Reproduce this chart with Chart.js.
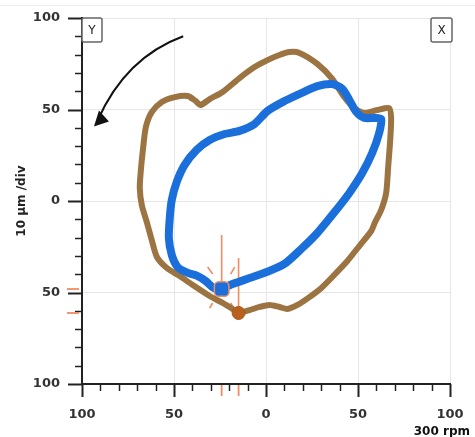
<!DOCTYPE html>
<html><head><meta charset="utf-8">
<script src="https://cdn.jsdelivr.net/npm/chart.js@4"></script>
<style>html,body{margin:0;padding:0;background:#fff;}#wrap{width:475px;height:437px;}</style>
</head><body><div id="wrap"><canvas id="c" width="475" height="437"></canvas></div>
<script>
// ---- data (µm, 10 µm/div scale) ----
const tickValues = [-100, -50, 0, 50, 100];
const blueX = [-24.1,-18.2,-8.9,0.3,10.0,19.2,27.9,38.2,45.3,52.3,57.7,61.5,62.6,59.9,53.4,49.1,45.3,41.5,36.0,27.9,19.2,10.0,0.8,-6.2,-14.4,-22.5,-30.6,-37.7,-44.2,-48.5,-51.2,-52.3,-52.8,-51.2,-48.0,-42.5,-37.1,-32.8,-28.5,-25.2];
const blueY = [-48.1,-45.4,-42.1,-38.8,-34.4,-26.2,-17.5,-4.9,4.4,15.3,26.2,37.2,44.8,45.4,45.4,48.6,55.2,61.2,63.9,62.8,59.0,54.6,49.2,42.1,38.3,36.6,33.3,27.9,19.7,10.4,0.5,-9.3,-20.2,-29.5,-36.1,-39.3,-41.0,-43.7,-47.5,-48.6];
const brownX = [-14.9,-8.9,-3.5,1.9,7.3,11.7,17.1,23.6,30.1,37.1,44.2,50.7,57.2,59.3,62.6,65.3,66.4,67.5,68.0,66.9,60.4,53.9,48.0,42.5,36.0,27.9,18.2,12.7,7.3,0.8,-6.2,-14.4,-23.6,-30.6,-35.5,-38.2,-42.5,-49.6,-56.6,-62.1,-65.3,-66.9,-68.0,-68.6,-67.5,-64.8,-62.1,-59.3,-53.9,-46.9,-39.8,-30.6,-23.6,-18.2,-14.9];
const brownY = [-61.2,-59.6,-57.9,-56.8,-57.9,-59.0,-56.8,-52.5,-47.5,-40.4,-32.8,-24.6,-16.4,-11.5,-4.9,4.4,18.6,33.3,45.4,50.8,49.7,48.1,50.8,56.8,66.7,74.9,80.9,81.4,79.8,77.0,73.2,67.2,59.6,55.7,52.5,54.6,57.4,56.8,54.1,48.6,40.4,27.9,16.9,7.1,-2.2,-11.5,-21.3,-30.6,-36.6,-41.0,-45.9,-51.9,-55.7,-59.0,-61.2];
const blueMarker = [-24.1, -48.1];
const brownMarker = [-14.9, -61.2];
const yTitle = '10 µm /div';
const xTitle = '300 rpm';

const toPts = (xs, ys) => xs.map((v, i) => ({x: v, y: ys[i]}));
const FONT = 'DejaVu Sans';
const ORANGE = '#f08c62';
const BLUE = '#1a6fdb';
const BROWN = '#9b7442';

const decor = {
  id: 'decor',
  beforeDatasetsDraw(chart) {
    const {ctx, chartArea: ca, scales: {x, y}} = chart;
    ctx.save();
    ctx.strokeStyle = ORANGE; ctx.lineWidth = 1.6;
    const bx = x.getPixelForValue(blueMarker[0]), by = y.getPixelForValue(blueMarker[1]);
    const rx = x.getPixelForValue(brownMarker[0]), ry = y.getPixelForValue(brownMarker[1]);
    const seg = (a,b,c,d) => {ctx.beginPath(); ctx.moveTo(a,b); ctx.lineTo(c,d); ctx.stroke();};
    seg(bx, by - 54, bx, by);
    seg(rx, ry - 55, rx, ry);
    // starburst around blue marker
    seg(bx-14, by-22, bx-9, by-15);
    seg(bx+9, by-15, bx+13, by-22);
    seg(bx-12, by+19, bx-9, by+14);
    seg(bx+9, by+14, bx+12, by+19);
    ctx.restore();
  },
  afterDraw(chart) {
    const {ctx, chartArea: ca, scales: {x, y}} = chart;
    ctx.save();
    // faint top frame line
    ctx.strokeStyle = '#eeeeee'; ctx.lineWidth = 1;
    ctx.beginPath(); ctx.moveTo(0, 5.5); ctx.lineTo(475, 5.5); ctx.stroke();
    // axis ticks (major/minor)
    ctx.strokeStyle = '#222';
    y.ticks.forEach(t => {
      const p = Math.round(y.getPixelForValue(t.value)) + 0.5;
      const major = t.value % 50 === 0;
      ctx.lineWidth = major ? 2 : 1.5;
      ctx.beginPath(); ctx.moveTo(ca.left - (major ? 14 : 7), p); ctx.lineTo(ca.left, p); ctx.stroke();
    });
    x.ticks.forEach(t => {
      const p = Math.round(x.getPixelForValue(t.value)) + 0.5;
      const major = t.value % 50 === 0;
      ctx.lineWidth = major ? 2 : 1.5;
      ctx.beginPath(); ctx.moveTo(p, ca.bottom); ctx.lineTo(p, ca.bottom + (major ? 13 : 7)); ctx.stroke();
    });
    // orange marker ticks on axes
    ctx.strokeStyle = ORANGE; ctx.lineWidth = 1.8;
    [blueMarker, brownMarker].forEach(m => {
      const py = y.getPixelForValue(m[1]);
      ctx.beginPath(); ctx.moveTo(ca.left - 15, py); ctx.lineTo(ca.left - 3, py); ctx.stroke();
      const px = x.getPixelForValue(m[0]);
      ctx.beginPath(); ctx.moveTo(px, ca.bottom + 1); ctx.lineTo(px, ca.bottom + 12); ctx.stroke();
    });
    // Y / X boxes
    const box = (l, t, w, h, txt) => {
      ctx.fillStyle = '#fff'; ctx.strokeStyle = '#666'; ctx.lineWidth = 1.5;
      ctx.beginPath(); ctx.roundRect(l, t, w, h, 2); ctx.fill(); ctx.stroke();
      ctx.fillStyle = '#222'; ctx.font = '12px ' + FONT; ctx.textAlign = 'center'; ctx.textBaseline = 'middle';
      ctx.fillText(txt, l + w / 2, t + h / 2 + 1);
    };
    box(ca.left, ca.top, 20, 24, 'Y');
    box(ca.right - 19, ca.top, 21, 24, 'X');
    // rotation arrow
    const a0 = [x.getPixelForValue(-45), y.getPixelForValue(90)];
    const a1 = [x.getPixelForValue(-76.4), y.getPixelForValue(78.4)];
    const a2 = [x.getPixelForValue(-91.5), y.getPixelForValue(44)];
    ctx.strokeStyle = '#111'; ctx.lineWidth = 2;
    ctx.beginPath(); ctx.moveTo(a0[0], a0[1]); ctx.quadraticCurveTo(a1[0], a1[1], a2[0], a2[1]); ctx.stroke();
    const tip = [x.getPixelForValue(-93.5), y.getPixelForValue(40.7)];
    ctx.fillStyle = '#111';
    ctx.beginPath(); ctx.moveTo(tip[0], tip[1]);
    ctx.lineTo(tip[0] + 5, tip[1] - 16); ctx.lineTo(tip[0] + 15, tip[1] - 5); ctx.closePath(); ctx.fill();
    ctx.restore();
  }
};

new Chart(document.getElementById('c'), {
  type: 'scatter',
  data: {
    datasets: [
      {data: toPts(brownX, brownY), showLine: true, borderColor: BROWN, borderWidth: 6, pointRadius: 0, tension: 0.25, order: 3},
      {data: toPts(blueX, blueY), showLine: true, borderColor: BLUE, borderWidth: 8, pointRadius: 0, tension: 0.25, order: 2},
      {data: [{x: brownMarker[0], y: brownMarker[1]}], pointStyle: 'circle', pointRadius: 6.5, backgroundColor: '#b9601c', borderColor: '#a85a20', borderWidth: 1, order: 1},
      {data: [{x: blueMarker[0], y: blueMarker[1]}], pointStyle: 'rectRounded', pointRadius: 8.5, backgroundColor: BLUE, borderColor: ORANGE, borderWidth: 1.5, order: 0}
    ]
  },
  options: {
    responsive: false, animation: false, devicePixelRatio: 1,
    layout: {padding: {left: 0, right: 5, top: 18, bottom: 0}},
    plugins: {
      legend: {display: false}, tooltip: {enabled: false},
      title: {display: true, text: xTitle, position: 'bottom', align: 'end', color: '#111',
              font: {family: FONT, size: 12, weight: 'bold'}, padding: {top: 2, bottom: -2}}
    },
    scales: {
      x: {
        type: 'linear', min: -100, max: 100,
        afterFit: s => { s.height = 38.6; },
        ticks: {stepSize: 10, autoSkip: false, maxRotation: 0, padding: 9, color: '#333',
                font: {family: FONT, size: 13, weight: 'bold'},
                callback: v => tickValues.includes(v) ? String(Math.abs(v)) : ''},
        grid: {color: c => (c.tick && c.tick.value % 50 === 0) ? '#e6e6e6' : 'rgba(0,0,0,0)', tickLength: 14, tickColor: 'rgba(0,0,0,0)'},
        border: {display: true, color: '#222', width: 2}
      },
      y: {
        type: 'linear', min: -100, max: 100, position: 'left',
        afterFit: s => { s.width = 82; },
        ticks: {stepSize: 10, autoSkip: false, padding: 8, color: '#333',
                font: {family: FONT, size: 13, weight: 'bold'},
                callback: v => tickValues.includes(v) ? String(Math.abs(v)) : ''},
        grid: {color: c => (c.tick && c.tick.value % 50 === 0) ? '#e6e6e6' : 'rgba(0,0,0,0)', tickLength: 14, tickColor: 'rgba(0,0,0,0)'},
        border: {display: true, color: '#222', width: 2},
        title: {display: true, text: yTitle, color: '#222', font: {family: FONT, size: 12, weight: 'bold'}, padding: {top: 15, bottom: 0}}
      },
      y2: {
        type: 'linear', position: 'right', display: true,
        afterFit: s => { s.width = 20; },
        ticks: {display: false}, grid: {display: false}, border: {display: false}
      }
    }
  },
  plugins: [decor]
});
</script>
</body></html>
